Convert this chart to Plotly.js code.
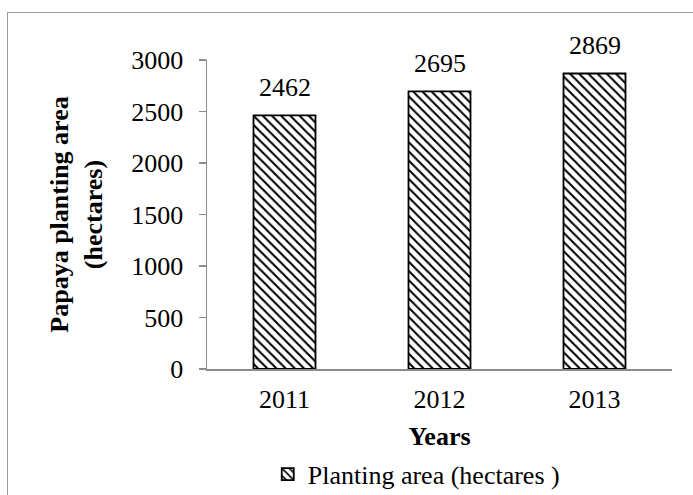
<!DOCTYPE html>
<html>
<head>
<meta charset="utf-8">
<script src="https://cdn.plot.ly/plotly-3.0.1.min.js"></script>
<style>
  html, body { margin: 0; padding: 0; background: #fff; }
  #wrap { position: relative; width: 693px; height: 495px; overflow: hidden; }
  #chart { position: absolute; left: 0; top: 0; width: 693px; height: 495px; }
  #frame { position: absolute; left: 7px; top: 12px; width: 700px; height: 520px;
           border: 1.5px solid #9a9a9a; pointer-events: none; }
</style>
</head>
<body>
<div id="wrap">
  <div id="chart"></div>
  <div id="frame"></div>
</div>
<script>
const years = ['2011', '2012', '2013'];
const plantingArea = [2462, 2695, 2869];
const seriesName = 'Planting area (hectares )';
const yTicks = [0, 500, 1000, 1500, 2000, 2500, 3000];
const xTitle = 'Years';
const yTitle = 'Papaya planting area<br>(hectares)';

const FONT = '"Liberation Serif", "Times New Roman", serif';

const trace = {
  type: 'bar',
  x: years,
  y: plantingArea,
  name: seriesName,
  width: 0.4,
  marker: {
    color: '#ffffff',
    line: { color: '#000000', width: 1.8 },
    pattern: { shape: '\\', fgcolor: '#000000', bgcolor: '#ffffff', size: 6.5, solidity: 0.32 }
  },
  hoverinfo: 'x+y'
};

// category index positions for the value labels
const annotations = years.map((yr, i) => ({
  x: i, y: plantingArea[i], xref: 'x', yref: 'y',
  text: String(plantingArea[i]), showarrow: false,
  yanchor: 'bottom', yshift: 11,
  font: { family: FONT, size: 26, color: '#000' }
}));

const layout = {
  width: 693, height: 495,
  margin: { l: 207, r: 21, t: 60, b: 126, autoexpand: false },
  paper_bgcolor: 'rgba(0,0,0,0)',
  plot_bgcolor: 'rgba(0,0,0,0)',
  font: { family: FONT, size: 26, color: '#000' },
  showlegend: true,
  legend: {
    orientation: 'h', xref: 'paper', x: 0.45, xanchor: 'center',
    yref: 'container', y: 0.042, yanchor: 'middle',
    font: { family: FONT, size: 26, color: '#000' }
  },
  xaxis: {
    type: 'category',
    range: [-0.5, 2.5], autorange: false, automargin: false,
    showline: true, linecolor: '#8c8c8c', linewidth: 1.5,
    ticks: '', ticklabelstandoff: 6,
    tickfont: { family: FONT, size: 26 },
    title: { text: '<b>' + xTitle + '</b>', font: { family: FONT, size: 26 }, standoff: 17 },
    showgrid: false, zeroline: false
  },
  yaxis: {
    range: [0, 3000], autorange: false, automargin: false,
    tickvals: yTicks,
    showline: true, linecolor: '#8c8c8c', linewidth: 1.5,
    ticks: 'outside', ticklen: 7, tickcolor: '#8c8c8c', tickwidth: 1.5,
    tickfont: { family: FONT, size: 26 },
    ticklabelstandoff: 10,
    title: { text: '<b>' + yTitle + '</b>', font: { family: FONT, size: 26 }, standoff: 21 },
    showgrid: false, zeroline: false
  },
  annotations: annotations
};

Plotly.newPlot('chart', [trace], layout, { displayModeBar: false, staticPlot: true });
</script>
</body>
</html>
